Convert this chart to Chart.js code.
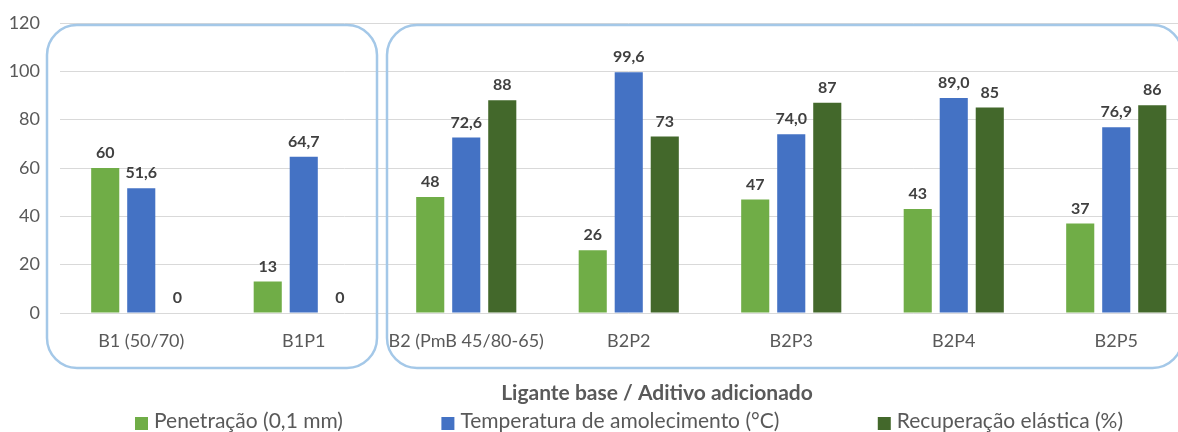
<!DOCTYPE html>
<html><head><meta charset="utf-8">
<script src="https://cdn.jsdelivr.net/npm/chart.js@4.4.0/dist/chart.umd.min.js"></script>
<style>html,body{margin:0;padding:0;overflow:hidden;background:#fff}#wrap{width:1200px;height:432px;position:relative}</style>
</head><body><div id="wrap"><canvas id="c"></canvas></div>
<script>
const categories = ["B1 (50/70)", "B1P1", "B2 (PmB 45/80-65)", "B2P2", "B2P3", "B2P4", "B2P5"];
const penetracao = [60, 13, 48, 26, 47, 43, 37];
const temperatura = [51.6, 64.7, 72.6, 99.6, 74.0, 89.0, 76.9];
const recuperacao = [0, 0, 88, 73, 87, 85, 86];
const seriesNames = ["Penetração (0,1 mm)", "Temperatura de amolecimento (°C)", "Recuperação elástica (%)"];
const seriesDecimals = [0, 1, 0];
const yMin = 0, yMax = 120, yStep = 20;
const xTitle = "Ligante base / Aditivo adicionado";
const colors = ["#70AD47", "#4472C4", "#43682B"];
const FONT = "Lato, 'Liberation Sans', sans-serif";

const fmt = (v, d) => v.toFixed(d).replace('.', ',');

const dataLabels = {
  id: 'dataLabels',
  afterDatasetsDraw(chart) {
    const ctx = chart.ctx;
    ctx.save();
    ctx.font = "bold 16px " + FONT;
    ctx.fillStyle = "#404040";
    ctx.textAlign = "center";
    ctx.textBaseline = "middle";
    chart.data.datasets.forEach((ds, i) => {
      const meta = chart.getDatasetMeta(i);
      meta.data.forEach((el, j) => {
        ctx.fillText(fmt(ds.data[j], seriesDecimals[i]), el.x, el.y - 15);
      });
    });
    ctx.restore();
  }
};

const groupBoxes = {
  id: 'groupBoxes',
  afterDraw(chart) {
    const ctx = chart.ctx, x = chart.scales.x, a = chart.chartArea;
    const cw = (x.right - x.left) / categories.length;
    const top = a.top + 2, bottom = a.bottom + 55;
    const boxes = [[x.left - 13, x.left + 2 * cw - 8], [x.left + 2 * cw + 2, x.right - 15]];
    ctx.save();
    ctx.strokeStyle = "#A4C8E8";
    ctx.lineWidth = 2.5;
    boxes.forEach(([l, r]) => {
      ctx.beginPath();
      ctx.roundRect(l, top, r - l, bottom - top, 30);
      ctx.stroke();
    });
    ctx.restore();
  }
};

const axisTitleAndLegend = {
  id: 'axisTitleAndLegend',
  afterDraw(chart) {
    const ctx = chart.ctx;
    ctx.save();
    ctx.textBaseline = "middle";
    // x-axis title
    ctx.font = "bold 21px " + FONT;
    ctx.fillStyle = "#595959";
    ctx.textAlign = "center";
    ctx.fillText(xTitle, 657, 393);
    // legend
    ctx.font = "21px " + FONT;
    const box = 13, gapBox = 6;
    const widths = seriesNames.map(n => box + gapBox + ctx.measureText(n).width);
    const startX = 135, endX = 1123;
    const gap = (endX - startX - widths.reduce((s, w) => s + w, 0)) / (seriesNames.length - 1);
    let xPos = startX;
    const y = 421;
    ctx.textAlign = "left";
    seriesNames.forEach((n, i) => {
      ctx.fillStyle = colors[i];
      ctx.fillRect(xPos, y - 4, box, box);
      ctx.fillStyle = "#595959";
      ctx.fillText(n, xPos + box + gapBox, y);
      xPos += widths[i] + gap;
    });
    ctx.restore();
  }
};

new Chart(document.getElementById('c'), {
  type: 'bar',
  data: {
    labels: categories,
    datasets: [
      { label: seriesNames[0], data: penetracao, backgroundColor: colors[0] },
      { label: seriesNames[1], data: temperatura, backgroundColor: colors[1] },
      { label: seriesNames[2], data: recuperacao, backgroundColor: colors[2] }
    ]
  },
  options: {
    responsive: true,
    maintainAspectRatio: false,
    animation: false,
    devicePixelRatio: 1,
    categoryPercentage: 0.665,
    barPercentage: 0.78,
    layout: { padding: { top: 23, right: 2.5, bottom: 0, left: 0 } },
    plugins: { legend: { display: false }, tooltip: { enabled: false } },
    scales: {
      x: {
        grid: { display: false, drawTicks: false },
        border: { display: false },
        ticks: { font: { family: FONT, size: 18 }, color: "#595959", padding: 17, maxRotation: 0, autoSkip: false },
        title: { display: false, text: xTitle },
        afterFit(s) { s.height = 119; }
      },
      y: {
        min: yMin, max: yMax,
        grid: { color: "#D9D9D9", lineWidth: 1, drawTicks: false },
        border: { display: false },
        ticks: { stepSize: yStep, font: { family: FONT, size: 18 }, color: "#595959", padding: 20 },
        afterFit(s) { s.width = 60; s.paddingTop = 0; s.paddingBottom = 0; }
      }
    }
  },
  plugins: [groupBoxes, dataLabels, axisTitleAndLegend]
});
</script></body></html>
